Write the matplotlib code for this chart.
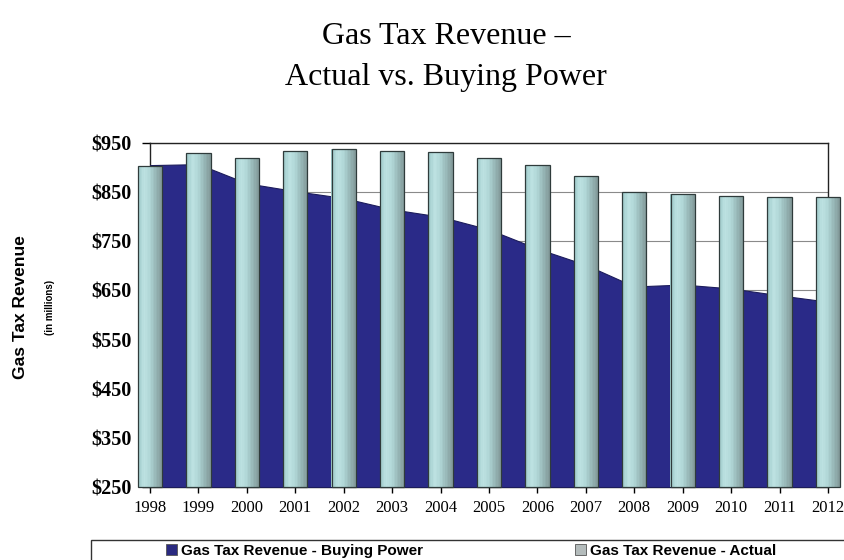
import matplotlib
matplotlib.use("Agg")
import matplotlib.pyplot as plt
import matplotlib.colors as mcolors
from matplotlib.patches import Patch, Rectangle
import numpy as np

years = ['1998', '1999', '2000', '2001', '2002', '2003', '2004', '2005',
         '2006', '2007', '2008', '2009', '2010', '2011', '2012']
buying_power = [905, 907, 868, 852, 838, 815, 800, 774, 735, 702, 658, 662, 654, 640, 627]
actual = [904, 929, 919, 933, 937, 934, 931, 920, 906, 883, 850, 847, 843, 840, 841]
y_ticks = [250, 350, 450, 550, 650, 750, 850, 950]
y_base = 250

serif = 'Liberation Serif'
sans = 'Liberation Sans'

fig = plt.figure(figsize=(8.44, 5.6), dpi=100)
ax = fig.add_axes([150 / 844, 1 - 487 / 560, 678 / 844, 344 / 560])

x = np.arange(len(years))

# buying power as a filled area behind the bars
ax.fill_between(x, y_base, buying_power, facecolor='#2a2a88', edgecolor='#1c1c5c',
                linewidth=0.8, zorder=2)

# actual revenue bars, shaded left to right with thin strips
bar_w = 0.5
n_strips = 16
strip_w = bar_w / n_strips
shade = mcolors.LinearSegmentedColormap.from_list(
    'bar', ['#a2cccc', '#bde2e2', '#b0d6d6', '#98b8b8', '#859d9d'])
heights = np.array(actual) - y_base
for k in range(n_strips):
    ax.bar(x - bar_w / 2 + (k + 0.5) * strip_w, heights, width=strip_w * 1.15,
           bottom=y_base, color=shade(k / (n_strips - 1)), linewidth=0,
           clip_on=False, zorder=3)
ax.bar(x, heights, width=bar_w, bottom=y_base, fill=False, edgecolor='#2f3b3b',
       linewidth=0.9, clip_on=False, zorder=4)

ax.set_xlim(0, len(years) - 1)
ax.set_ylim(y_base, 950)
ax.set_xticks(x)
ax.set_xticklabels(years, fontfamily=serif, fontsize=12)
ax.set_yticks(y_ticks)
ax.set_yticklabels([f'${v}' for v in y_ticks], fontfamily=serif, fontsize=14.5,
                   fontweight='bold')
ax.tick_params(axis='y', direction='out', length=6, width=1, pad=7)
ax.tick_params(axis='x', direction='out', length=4, width=1, pad=5)

ax.yaxis.grid(True, color='#8a8a8a', linewidth=0.8)
ax.set_axisbelow(True)
for sp in ax.spines.values():
    sp.set_color('#222222')
    sp.set_linewidth(1)
    sp.set_zorder(1)

# titles
fig.text(446 / 844, 1 - 37 / 560, 'Gas Tax Revenue –', ha='center', va='center',
         fontfamily=serif, fontsize=23)
fig.text(446 / 844, 1 - 77 / 560, 'Actual vs. Buying Power', ha='center', va='center',
         fontfamily=serif, fontsize=23)

# y axis titles
fig.text(21 / 844, 1 - 307 / 560, 'Gas Tax Revenue', rotation=90, ha='center',
         va='center', fontfamily=sans, fontweight='bold', fontsize=12.5)
fig.text(50 / 844, 1 - 307 / 560, '(in millions)', rotation=90, ha='center',
         va='center', fontfamily=sans, fontweight='bold', fontsize=7)

# legend
handles = [Patch(facecolor='#2a2a80', edgecolor='#555555', linewidth=0.6),
           Patch(facecolor='#b4bcbc', edgecolor='#555555', linewidth=0.6)]
labels = ['Gas Tax Revenue - Buying Power', 'Gas Tax Revenue - Actual']
fig.legend(handles, labels, loc='center left', bbox_to_anchor=(166 / 844, 1 - 551 / 560),
           ncol=2, frameon=False, prop=dict(family=sans, weight='bold', size=11),
           handlelength=0.7, handleheight=0.7, handletextpad=0.25,
           columnspacing=10, borderaxespad=0, borderpad=0)
fig.add_artist(Rectangle((91 / 844, 1 - 590 / 560), 900 / 844, 50 / 560,
                         transform=fig.transFigure, fill=False, edgecolor='#333333',
                         linewidth=1, clip_on=False))

fig.savefig('out.png', dpi=100)
